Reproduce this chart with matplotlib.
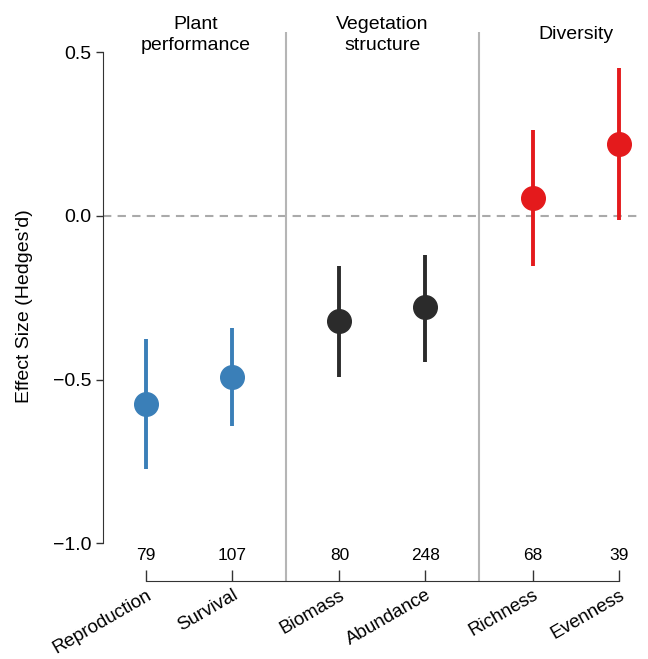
import matplotlib
matplotlib.use('Agg')
import matplotlib.pyplot as plt

plt.rcParams['font.family'] = ['Liberation Sans', 'DejaVu Sans']

categories = ['Reproduction', 'Survival', 'Biomass', 'Abundance', 'Richness', 'Evenness']
positions = [0, 1, 2.25, 3.25, 4.5, 5.5]
effect = [-0.574, -0.491, -0.321, -0.278, 0.056, 0.220]
ci_low = [-0.773, -0.641, -0.491, -0.445, -0.153, -0.012]
ci_high = [-0.376, -0.342, -0.153, -0.119, 0.263, 0.453]
n_studies = ['79', '107', '80', '248', '68', '39']
colors = ['#3a7fb8', '#3a7fb8', '#2b2b2b', '#2b2b2b', '#e41a1c', '#e41a1c']
groups = ['Plant\nperformance', 'Vegetation\nstructure', 'Diversity']
group_centers = [0.58, 2.75, 5.0]
separators = [1.625, 3.875]

fig = plt.figure(figsize=(6.48, 6.59), dpi=100)
ax = fig.add_axes([0.159, 0.1184, 0.83, 0.833])

ax.axhline(0, color='#aaaaaa', lw=1.5, ls=(0, (4, 3)), zorder=1)
for s in separators:
    ax.axvline(s, color='#b5b5b5', lw=1.5, zorder=1)

for x, y, lo, hi, c in zip(positions, effect, ci_low, ci_high, colors):
    ax.plot([x, x], [lo, hi], color=c, lw=2.8, solid_capstyle='butt', zorder=2)
    ax.plot(x, y, 'o', color=c, ms=17, zorder=3)

for x, n in zip(positions, n_studies):
    ax.text(x, -1.036, n, ha='center', va='center', fontsize=12.5)

for x, g in zip(group_centers, groups):
    ax.text(x, 0.553, g, ha='center', va='center', fontsize=14, linespacing=1.25)

ax.set_xlim(-0.5, 5.756)
ax.set_ylim(-1.115, 0.562)
ax.set_yticks([-1.0, -0.5, 0.0, 0.5])
ax.set_yticklabels(['\u22121.0', '\u22120.5', '0.0', '0.5'])
ax.set_xticks(positions)
ax.set_xticklabels(categories, rotation=30, ha='right', va='top', rotation_mode='anchor', fontsize=13.5)
ax.set_ylabel("Effect Size (Hedges'd)", fontsize=14, labelpad=14)

for side in ['top', 'right']:
    ax.spines[side].set_visible(False)
ax.spines['left'].set_bounds(-1.0, 0.5)
ax.spines['bottom'].set_bounds(0, 5.5)
ax.spines['left'].set_color('#333333')
ax.spines['bottom'].set_color('#333333')
ax.tick_params(axis='y', direction='out', length=5, width=1, color='#333333', labelsize=14)
ax.tick_params(axis='x', direction='in', length=8, width=1, color='#333333', pad=4)

plt.savefig('out.png', dpi=100)
